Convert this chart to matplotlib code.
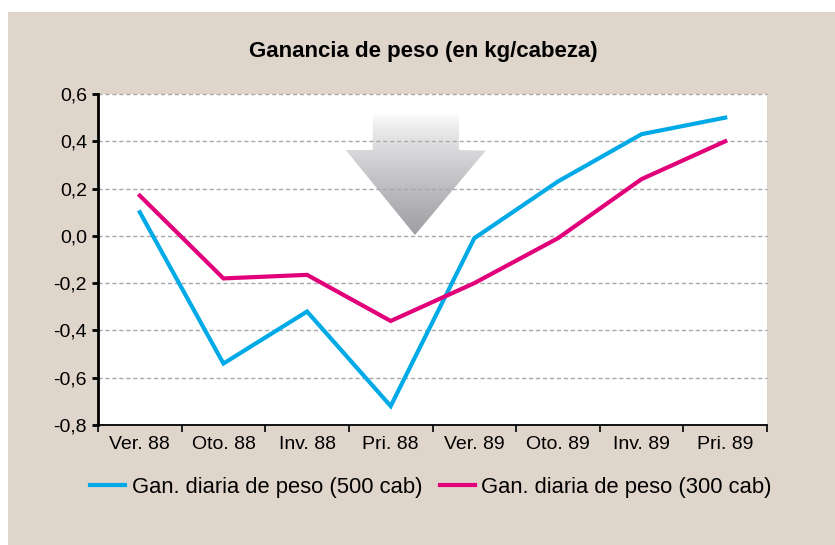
import matplotlib
matplotlib.use('Agg')
import matplotlib.pyplot as plt
import matplotlib.patches as patches
import numpy as np

plt.rcParams['font.family'] = ['Liberation Sans', 'DejaVu Sans']

# datos
categorias = ['Ver. 88', 'Oto. 88', 'Inv. 88', 'Pri. 88', 'Ver. 89', 'Oto. 89', 'Inv. 89', 'Pri. 89']
gan_500 = [0.10, -0.54, -0.32, -0.72, -0.01, 0.23, 0.43, 0.50]
gan_300 = [0.17, -0.18, -0.165, -0.36, -0.20, -0.01, 0.24, 0.40]
y_ticks = [-0.8, -0.6, -0.4, -0.2, 0.0, 0.2, 0.4, 0.6]
y_labels = ['-0,8', '-0,6', '-0,4', '-0,2', '0,0', '0,2', '0,4', '0,6']

beige = '#e0d5cb'
azul = '#00aae7'
magenta = '#e2007a'

fig = plt.figure(figsize=(8.35, 5.45), dpi=100)
fig.patch.set_facecolor('white')
# recuadro de fondo beige
fig.patches.append(patches.Rectangle((8 / 835, 0), 1, 1 - 12 / 545, transform=fig.transFigure,
                                     facecolor=beige, edgecolor='none', zorder=-5))

ax = fig.add_axes([98 / 835, 1 - 425 / 545, 669 / 835, 331 / 545])
ax.set_zorder(2)
ax.set_facecolor('white')

x = np.arange(len(categorias))
ax.set_xlim(-0.5, len(categorias) - 0.5)
ax.set_ylim(-0.8, 0.6)

# flecha gris con degradado (coordenadas de ejes)
flecha = [(0.4106, 0.94), (0.5396, 0.94), (0.5396, 0.8308), (0.5795, 0.8290),
          (0.4738, 0.574), (0.3703, 0.8308), (0.4106, 0.8308)]
poly = patches.Polygon(flecha, closed=True, transform=ax.transAxes, facecolor='none',
                       edgecolor='none')
ax.add_patch(poly)
grad = np.linspace(0, 1, 256) ** 0.8
c_top = np.array([255, 255, 255]) / 255
c_bot = np.array([158, 158, 163]) / 255
img = c_top + (c_bot - c_top) * grad[:, None, None] * np.ones((1, 2, 1))
im = ax.imshow(img, extent=[0.36, 0.59, 0.574, 0.945], transform=ax.transAxes,
               aspect='auto', origin='upper', zorder=1, interpolation='bilinear')
im.set_clip_path(poly)

# lineas de cuadricula
for yv in y_ticks[1:]:
    ax.axhline(yv, color='#a8a8a8', lw=1, ls=(0, (3, 2)), zorder=2, clip_on=False)

ax.plot(x, gan_500, color=azul, lw=3, zorder=3, solid_joinstyle='miter',
        label='Gan. diaria de peso (500 cab)')
ax.plot(x, gan_300, color=magenta, lw=3, zorder=3, solid_joinstyle='miter',
        label='Gan. diaria de peso (300 cab)')

ax.set_yticks(y_ticks)
ax.set_yticklabels(y_labels, fontsize=14)
ax.set_xticks(x)
ax.set_xticklabels(categorias, fontsize=14)
ax.set_xticks(np.arange(-0.5, len(categorias)), minor=True)
ax.tick_params(axis='x', which='major', length=0, pad=8)
ax.tick_params(axis='x', which='minor', length=5, width=1.2, direction='out', color='black')
ax.tick_params(axis='y', length=4, width=2, direction='out', pad=4, color='black')

for s in ['top', 'right']:
    ax.spines[s].set_visible(False)
ax.spines['left'].set_linewidth(2)
ax.spines['bottom'].set_linewidth(1.3)

fig.text(0.507, 1 - 52 / 545, 'Ganancia de peso (en kg/cabeza)', ha='center', va='center',
         fontsize=16, fontweight='bold')

fig.legend(loc='center', bbox_to_anchor=(0.516, 1 - 487 / 545), ncol=2, frameon=False,
           fontsize=15.8, handlelength=1.6, handletextpad=0.3, columnspacing=0.8)

fig.savefig('out.png', dpi=100, facecolor=fig.get_facecolor())
